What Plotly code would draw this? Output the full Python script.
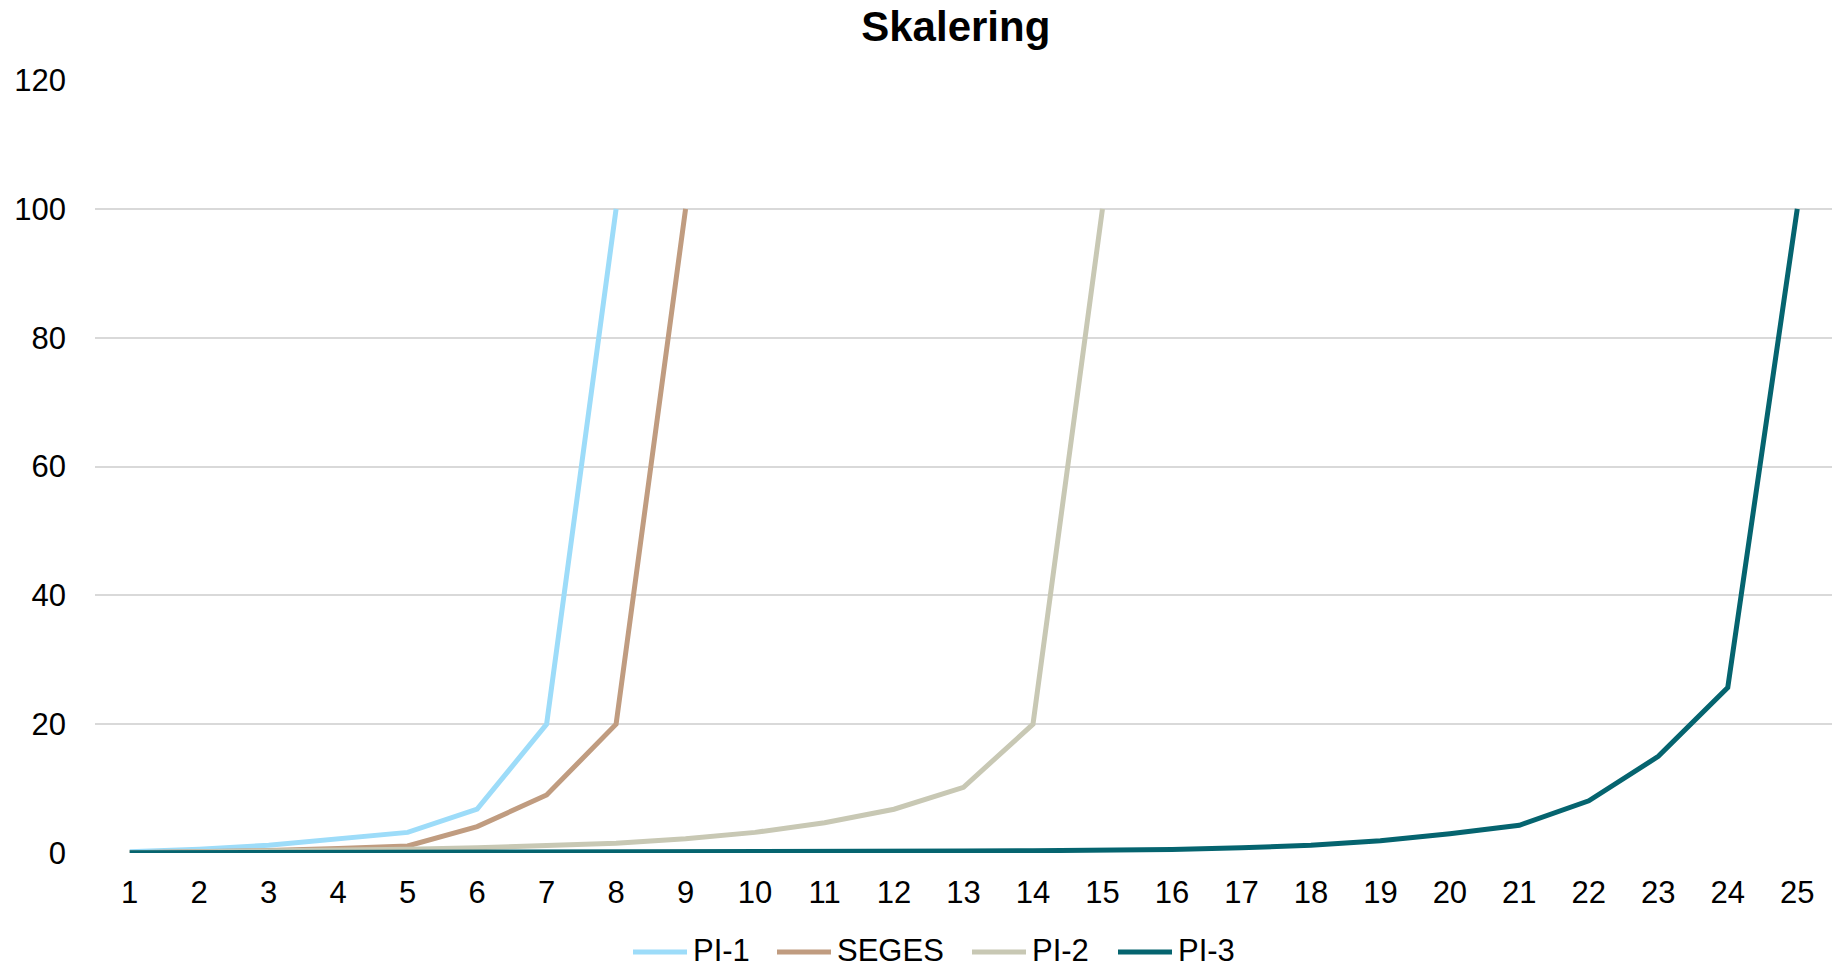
import plotly.graph_objects as go

x_all = list(range(1, 26))

pi1 = [0.2, 0.6, 1.2, 2.2, 3.2, 6.8, 20, 100]
seges = [0.05, 0.2, 0.4, 0.7, 1.1, 4.1, 9.0, 20, 100]
pi2 = [0.05, 0.15, 0.3, 0.45, 0.6, 0.8, 1.1, 1.5, 2.2, 3.2, 4.7, 6.8, 10.2, 20, 100]
pi3 = [0.02, 0.03, 0.04, 0.05, 0.07, 0.08, 0.1, 0.12, 0.15, 0.18, 0.22, 0.26, 0.3,
       0.35, 0.42, 0.55, 0.8, 1.2, 1.9, 3.0, 4.3, 8.1, 15, 25.7, 100]

names = ["PI-1", "SEGES", "PI-2", "PI-3"]
values = [pi1, seges, pi2, pi3]
colors = ["#9DDCF9", "#C09C80", "#C8C8B4", "#05646F"]

W, H = 1832, 968
ML, MR, MT, MB = 95, 0, 80, 115
PW, PH = W - ML - MR, H - MT - MB

font_family = "Liberation Sans, Arial, sans-serif"

fig = go.Figure()
for name, vals, color in zip(names, values, colors):
    fig.add_trace(go.Scatter(
        x=x_all[:len(vals)], y=vals, name=name, mode="lines",
        line=dict(color=color, width=5), showlegend=False,
    ))

# custom legend (pixel positions converted to paper coords)
leg_line_start = [633, 777, 972, 1118]
leg_line_len = 54
leg_y = 951


def px_x(p):
    return (p - ML) / PW


def px_y(p):
    return (H - MB - p) / PH


shapes = []
annotations = []
for name, color, xs in zip(names, colors, leg_line_start):
    shapes.append(dict(type="line", xref="paper", yref="paper",
                       x0=px_x(xs), x1=px_x(xs + leg_line_len),
                       y0=px_y(leg_y + 1), y1=px_y(leg_y + 1),
                       line=dict(color=color, width=5)))
    annotations.append(dict(text=name, xref="paper", yref="paper",
                            x=px_x(xs + leg_line_len + 5), y=px_y(leg_y),
                            xanchor="left", yanchor="middle", showarrow=False,
                            borderpad=0,
                            font=dict(family=font_family, size=31, color="#000000")))

fig.update_layout(
    width=W, height=H,
    paper_bgcolor="white", plot_bgcolor="white",
    margin=dict(l=ML, r=MR, t=MT, b=MB, autoexpand=False),
    font=dict(family=font_family, size=31, color="#000000"),
    title=dict(text="<b>Skalering</b>", x=955.8 / W, xanchor="center",
               y=1 - 26 / H, yanchor="middle",
               font=dict(family=font_family, size=42, color="#000000")),
    showlegend=False,
    shapes=shapes,
    annotations=annotations,
    xaxis=dict(range=[0.5, 25.5], tickmode="array", tickvals=x_all,
               ticktext=[str(v) for v in x_all], showgrid=False, zeroline=False,
               showline=False, ticks="", ticklabelstandoff=18,
               tickfont=dict(family=font_family, size=31, color="#000000")),
    yaxis=dict(range=[0, 120], tickmode="linear", tick0=0, dtick=20, showgrid=True,
               gridcolor="#D9D9D9", gridwidth=1.5, zeroline=False, showline=False,
               ticks="", ticklabelstandoff=28,
               tickfont=dict(family=font_family, size=31, color="#000000")),
)

fig.write_html("out.html", config={"displayModeBar": False},
               post_script="document.body.style.margin='0px';document.body.style.overflow='hidden';")
